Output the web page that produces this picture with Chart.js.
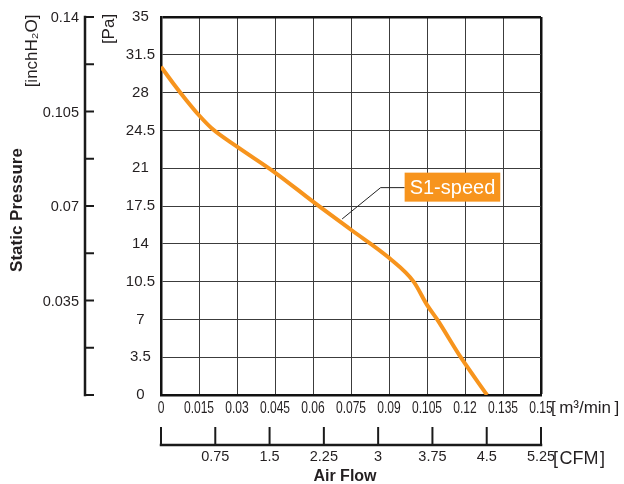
<!DOCTYPE html>
<html>
<head>
<meta charset="utf-8">
<script src="https://cdn.jsdelivr.net/npm/chart.js@4.4.0/dist/chart.umd.min.js"></script>
<style>
  html, body { margin: 0; padding: 0; background: #fff; }
  canvas { display: block; }
</style>
</head>
<body>
<canvas id="grafico" width="624" height="484"></canvas>
<script>
// S1-speed curve: air flow (m³/min) vs static pressure (Pa)
const airFlowM3 = [0, 0.005, 0.01, 0.015, 0.02, 0.03, 0.045, 0.06, 0.075, 0.09, 0.0997, 0.105, 0.109, 0.1183, 0.1287];
const pressurePa = [30.4, 28.8, 27.3, 25.9, 24.7, 23.0, 20.6, 17.9, 15.3, 12.7, 10.5, 8.35, 7.0, 3.5, 0];

// tick values of the four axes
const flowTicks = [0, 0.015, 0.03, 0.045, 0.06, 0.075, 0.09, 0.105, 0.12, 0.135, 0.15];
const paTicks = [0, 3.5, 7, 10.5, 14, 17.5, 21, 24.5, 28, 31.5, 35];
const cfmTicks = [0, 0.75, 1.5, 2.25, 3, 3.75, 4.5, 5.25];
const inchTicks = [0, 0.0175, 0.035, 0.0525, 0.07, 0.0875, 0.105, 0.1225, 0.14];
const inchLabels = [0.035, 0.07, 0.105, 0.14];

const seriesName = 'S1-speed';
// leader line of the series label, in data units (m³/min, Pa)
const leaderStart = [0.0715, 16.3];
const leaderElbow = [0.0867, 19.2];

const ORANGE = '#F7941D';
const FONT = "'Liberation Sans', Arial, sans-serif";

const fmt = v => String(Math.round(v * 10000) / 10000);

// draws the condensed flow labels, inchH2O and CFM axes, titles and the series label
const extraAxes = {
    id: 'extraAxes',
    afterDraw(chart) {
        const { ctx, scales: { x, y, x2, y2 } } = chart;
        ctx.save();
        ctx.strokeStyle = '#1a1a1a';
        ctx.fillStyle = '#231f20';
        ctx.lineCap = 'square';
        ctx.textBaseline = 'middle';

        // m³/min labels, condensed like the original
        ctx.font = '16.5px ' + FONT;
        ctx.textAlign = 'center';
        flowTicks.forEach(v => {
            ctx.save();
            ctx.translate(x.getPixelForValue(v), 408);
            ctx.scale(0.73, 1);
            ctx.fillText(fmt(v), 0, 0);
            ctx.restore();
        });

        // inchH2O axis
        const ax = 85;
        ctx.lineWidth = 2.5;
        ctx.beginPath();
        ctx.moveTo(ax, y2.getPixelForValue(0.14));
        ctx.lineTo(ax, y2.getPixelForValue(0));
        ctx.stroke();
        ctx.lineWidth = 2;
        inchTicks.forEach(v => {
            const py = y2.getPixelForValue(v);
            ctx.beginPath();
            ctx.moveTo(ax, py);
            ctx.lineTo(ax + 8, py);
            ctx.stroke();
        });
        ctx.font = '14.5px ' + FONT;
        ctx.textAlign = 'right';
        inchLabels.forEach(v => ctx.fillText(fmt(v), 79, y2.getPixelForValue(v) + 1));

        // CFM axis
        const ay = 445;
        ctx.lineWidth = 2.5;
        ctx.beginPath();
        ctx.moveTo(x2.getPixelForValue(0), ay);
        ctx.lineTo(x2.getPixelForValue(5.25), ay);
        ctx.stroke();
        ctx.lineWidth = 2;
        cfmTicks.forEach(v => {
            const px = x2.getPixelForValue(v);
            ctx.beginPath();
            ctx.moveTo(px, ay);
            ctx.lineTo(px, ay - 17);
            ctx.stroke();
        });
        ctx.textAlign = 'center';
        cfmTicks.slice(1).forEach(v => ctx.fillText(fmt(v), x2.getPixelForValue(v), 457));

        // unit labels and titles
        ctx.textAlign = 'left';
        ctx.font = '17px ' + FONT;
        ctx.fillText('[\u2009m³/min\u2009]', 551, 408);
        ctx.font = '18px ' + FONT;
        ctx.fillText('[\u200aCFM\u200a]', 553, 459);
        ctx.textAlign = 'center';
        ctx.font = 'bold 16px ' + FONT;
        ctx.fillText('Air Flow', 345, 477);

        const vertical = (text, cx, cy, font) => {
            ctx.save();
            ctx.translate(cx, cy);
            ctx.rotate(-Math.PI / 2);
            ctx.font = font;
            ctx.fillText(text, 0, 0);
            ctx.restore();
        };
        vertical('Static Pressure', 17, 210, 'bold 17px ' + FONT);
        vertical('[Pa]', 109, 29, '17px ' + FONT);
        vertical('[inchH₂O]', 32, 51, '17px ' + FONT);

        // series label with leader line
        const p0 = [x.getPixelForValue(leaderStart[0]), y.getPixelForValue(leaderStart[1])];
        const p1 = [x.getPixelForValue(leaderElbow[0]), y.getPixelForValue(leaderElbow[1])];
        const boxLeft = p1[0] + 24;
        ctx.lineCap = 'butt';
        ctx.lineWidth = 1;
        ctx.strokeStyle = '#222';
        ctx.beginPath();
        ctx.moveTo(p0[0], p0[1]);
        ctx.lineTo(p1[0], p1[1]);
        ctx.lineTo(boxLeft, p1[1]);
        ctx.stroke();
        ctx.font = '20px ' + FONT;
        const w = ctx.measureText(seriesName).width + 10;
        ctx.fillStyle = ORANGE;
        ctx.fillRect(boxLeft, p1[1] - 15, w, 29);
        ctx.fillStyle = '#fff';
        ctx.textAlign = 'left';
        ctx.fillText(seriesName, boxLeft + 5, p1[1] + 1);
        ctx.restore();
    }
};

const ctx = document.getElementById('grafico').getContext('2d');
new Chart(ctx, {
    type: 'line',
    data: {
        datasets: [{
            label: seriesName,
            data: airFlowM3.map((v, i) => ({ x: v, y: pressurePa[i] })),
            borderColor: ORANGE,
            borderWidth: 4,
            pointRadius: 0,
            cubicInterpolationMode: 'monotone',
            fill: false
        }]
    },
    options: {
        responsive: false,
        animation: false,
        events: [],
        layout: { padding: { left: 0, right: 83, top: 17, bottom: 0 } },
        plugins: { legend: { display: false }, tooltip: { enabled: false } },
        scales: {
            x: {
                type: 'linear',
                position: 'bottom',
                min: 0,
                max: 0.15,
                afterBuildTicks: s => { s.ticks = flowTicks.map(v => ({ value: v })); },
                afterFit: s => { s.height = 89; },
                ticks: { display: false },
                grid: {
                    drawTicks: false,
                    color: c => (c.tick && c.tick.value >= 0.15 ? '#111' : '#3c3c3c'),
                    lineWidth: c => (c.tick && c.tick.value >= 0.15 ? 2.5 : 1)
                },
                border: { color: '#111', width: 2.5 }
            },
            y: {
                type: 'linear',
                position: 'left',
                min: 0,
                max: 35,
                afterBuildTicks: s => { s.ticks = paTicks.map(v => ({ value: v })); },
                afterFit: s => { s.width = 161; },
                ticks: {
                    callback: v => fmt(v),
                    color: '#231f20',
                    padding: 6,
                    crossAlign: 'center',
                    autoSkip: false,
                    font: { family: FONT, size: 15 }
                },
                grid: {
                    drawTicks: false,
                    color: c => (c.tick && c.tick.value >= 35 ? '#111' : '#3c3c3c'),
                    lineWidth: c => (c.tick && c.tick.value >= 35 ? 2.5 : 1)
                },
                border: { color: '#111', width: 2.5 }
            },
            x2: { type: 'linear', position: 'bottom', min: 0, max: 5.25, display: false },
            y2: { type: 'linear', position: 'left', min: 0, max: 0.14, display: false }
        }
    },
    plugins: [extraAxes]
});
</script>
</body>
</html>
